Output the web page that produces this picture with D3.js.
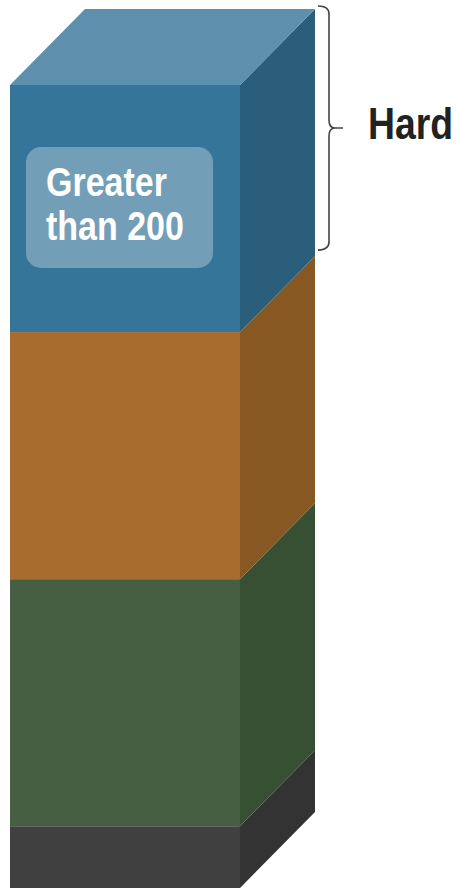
<!DOCTYPE html>
<html><head><meta charset="utf-8">
<script src="https://cdn.jsdelivr.net/npm/d3@7"></script>
<style>html,body{margin:0;padding:0;background:#fff;}svg{display:block;}</style>
</head><body>
<svg id="c" width="456" height="889"></svg>
<script>
// Data (bottom to top)
const layers = ["Base", "Lower", "Middle", "Hard"];
const values = [1, 4, 4, 4];
const frontColors = ["#404040", "#465F42", "#A86C2E", "#35759A"];
const sideColors  = ["#333333", "#374F33", "#875822", "#2B5E7A"];
const topColor = "#5E90AD";
const boxLabel = ["Greater", "than 200"];
const bracketLabel = "Hard";

(function () {
const svg = d3.select("#c");
const total = d3.sum(values);
const y = d3.scaleLinear().domain([0, total]).range([888, 85]);
const x = d3.scaleLinear().domain([0, 1]).range([10, 240]);
const dx = 75, dy = 76;
const FONT = "'Liberation Sans Narrow','Arial Narrow','Liberation Sans',Arial,sans-serif";

let acc = 0;
const segs = values.map((v, i) => { const s = {i, y0: acc, y1: acc + v}; acc += v; return s; });

// front faces
svg.selectAll("rect.front").data(segs).enter().append("rect")
  .attr("class", "front")
  .attr("x", x(0)).attr("width", x(1) - x(0))
  .attr("y", d => y(d.y1)).attr("height", d => y(d.y0) - y(d.y1))
  .attr("fill", d => frontColors[d.i]);

// side faces
svg.selectAll("path.side").data(segs).enter().append("path")
  .attr("class", "side")
  .attr("d", d => {
    const xr = x(1);
    return `M${xr},${y(d.y1)}L${xr + dx},${y(d.y1) - dy}L${xr + dx},${y(d.y0) - dy}L${xr},${y(d.y0)}Z`;
  })
  .attr("fill", d => sideColors[d.i]);

// top face
svg.append("path")
  .attr("d", `M${x(0)},${y(total)}L${x(0) + dx},${y(total) - dy}L${x(1) + dx},${y(total) - dy}L${x(1)},${y(total)}Z`)
  .attr("fill", topColor);

// label box on top segment
svg.append("rect")
  .attr("x", 26).attr("y", 147).attr("width", 187).attr("height", 121)
  .attr("rx", 15).attr("fill", "#ffffff").attr("fill-opacity", 0.3);
boxLabel.forEach((s, i) => {
  svg.append("text")
    .attr("transform", `translate(46,${196 + i * 44}) scale(0.85,1)`)
    .attr("font-family", FONT).attr("font-weight", "bold")
    .attr("font-size", 40).attr("fill", "#fff").text(s);
});

// curly bracket for top segment
const bTop = y(total) - dy - 3, bBot = y(segs[3].y0) - dy - 6;
const mid = (bTop + bBot) / 2, bx = 329;
svg.append("path")
  .attr("d", `M${bx - 11},${bTop}Q${bx},${bTop} ${bx},${bTop + 8}L${bx},${mid - 8}Q${bx},${mid} ${bx + 6},${mid}L${bx + 14},${mid}M${bx + 6},${mid}Q${bx},${mid} ${bx},${mid + 8}L${bx},${bBot - 8}Q${bx},${bBot} ${bx - 11},${bBot}`)
  .attr("fill", "none").attr("stroke", "#444").attr("stroke-width", 1.6);
svg.append("text")
  .attr("transform", `translate(368,139) scale(0.83,1)`)
  .attr("font-family", FONT).attr("font-weight", "bold")
  .attr("font-size", 45).attr("fill", "#222")
  .text(bracketLabel);
})();
</script>
</body></html>
